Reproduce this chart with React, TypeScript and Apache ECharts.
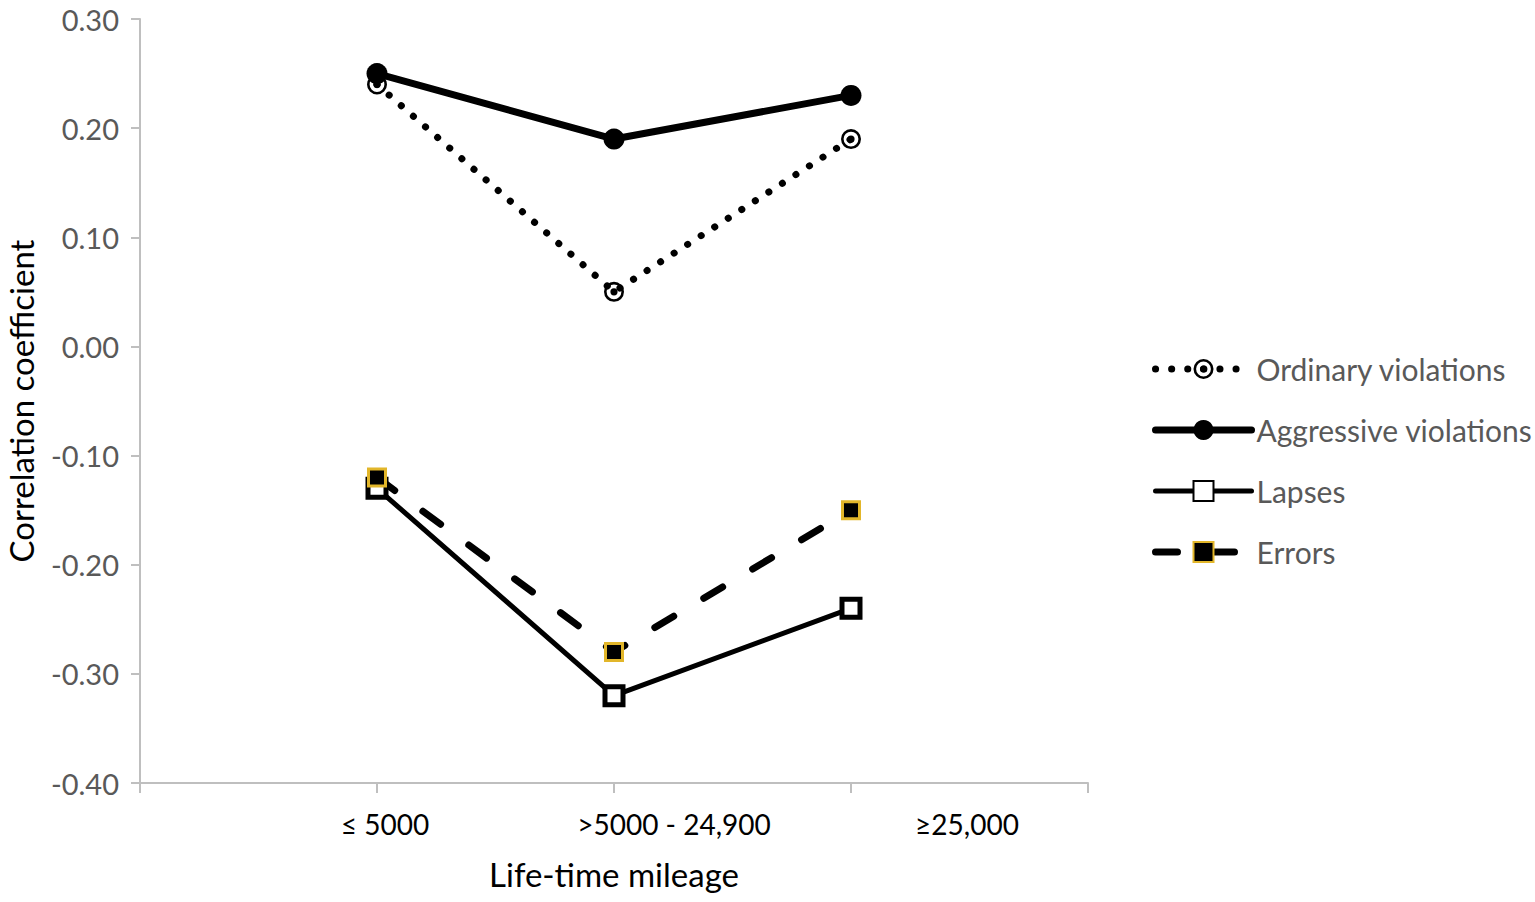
import React, { useEffect, useRef } from "react";
import * as echarts from "echarts";

const categories = ["≤ 5000", ">5000 - 24,900", "≥25,000"];
const ordinaryViolations = [0.24, 0.05, 0.19];
const aggressiveViolations = [0.25, 0.19, 0.23];
const lapses = [-0.13, -0.32, -0.24];
const errors = [-0.12, -0.28, -0.15];
const yTicks = { min: -0.4, max: 0.3, interval: 0.1 };

const FONT = "Lato, 'Open Sans', sans-serif";

// ring with centre dot
const ringDot =
  "path://M10 0A10 10 0 1 1 10 20A10 10 0 1 1 10 0Z M10 2.6A7.4 7.4 0 1 0 10 17.4A7.4 7.4 0 1 0 10 2.6Z M10 6.4A3.6 3.6 0 1 1 10 13.6A3.6 3.6 0 1 1 10 6.4Z";

const styles = {
  ordinary: { color: "#000", width: 7, type: [0.1, 16] as any, cap: "round" },
  aggressive: { color: "#000", width: 7, cap: "round" },
  lapses: { color: "#000", width: 5, cap: "round" },
  errors: { color: "#000", width: 7, type: [22, 35] as any, cap: "round" },
};

export default function App() {
  const ref = useRef<HTMLDivElement>(null);

  useEffect(() => {
    document.body.style.margin = "0";
    const chart = echarts.init(ref.current!, null, { renderer: "svg" });
    const axisData = ["", ...categories, ""];
    const pad = (arr: number[]) => [null, ...arr, null];
    const labelShift = [0, 16, 120, 232, 0];

    const rich: Record<string, any> = {};
    labelShift.forEach((s, i) => {
      rich["c" + i] = {
        fontSize: 28,
        fontFamily: FONT,
        color: "#000",
        padding: [0, 0, 0, s],
      };
    });

    chart.setOption({
      animation: false,
      backgroundColor: "#fff",
      grid: {
        left: 140,
        right: 447,
        top: 19,
        bottom: 119,
        containLabel: false,
        outerBoundsMode: "none",
      },
      xAxis: {
        type: "category",
        data: axisData,
        boundaryGap: false,
        name: "Life-time mileage",
        nameLocation: "middle",
        nameGap: 74,
        nameTextStyle: { fontSize: 33, fontFamily: FONT, color: "#000" },
        axisLine: { show: true, onZero: false, lineStyle: { color: "#BFBFBF", width: 2 } },
        axisTick: { show: true, length: 10, interval: 0, lineStyle: { color: "#BFBFBF", width: 2 } },
        axisLabel: {
          interval: 0,
          margin: 27,
          formatter: (v: string, i: number) => (v ? `{c${i}|${v}}` : ""),
          rich,
        },
        splitLine: { show: false },
      },
      yAxis: {
        type: "value",
        min: yTicks.min,
        max: yTicks.max,
        interval: yTicks.interval,
        name: "Correlation coefficient",
        nameLocation: "middle",
        nameGap: 103,
        nameTextStyle: { fontSize: 33, fontFamily: FONT, color: "#000" },
        axisLine: { show: true, lineStyle: { color: "#BFBFBF", width: 2 } },
        axisTick: { show: true, length: 9, lineStyle: { color: "#BFBFBF", width: 2 } },
        axisLabel: {
          margin: 21,
          fontSize: 29,
          fontFamily: FONT,
          color: "#595959",
          formatter: (v: number) => (Math.round(v * 100) / 100).toFixed(2),
        },
        splitLine: { show: false },
      },
      legend: {
        orient: "vertical",
        left: 1152,
        top: 354,
        padding: 0,
        itemWidth: 96,
        itemHeight: 25,
        itemGap: 31,
        textStyle: { fontSize: 30, lineHeight: 26, fontFamily: FONT, color: "#595959" },
        data: [
          { name: "Ordinary violations", lineStyle: styles.ordinary },
          { name: "Aggressive violations", lineStyle: styles.aggressive },
          { name: "Lapses", lineStyle: styles.lapses },
          { name: "Errors", lineStyle: styles.errors },
        ],
      },
      series: [
        {
          name: "Ordinary violations",
          type: "line",
          data: pad(ordinaryViolations),
          symbol: ringDot,
          symbolSize: 20,
          itemStyle: { color: "#000" },
          lineStyle: styles.ordinary,
        },
        {
          name: "Aggressive violations",
          type: "line",
          data: pad(aggressiveViolations),
          symbol: "circle",
          symbolSize: 21,
          itemStyle: { color: "#000" },
          lineStyle: styles.aggressive,
        },
        {
          name: "Lapses",
          type: "line",
          data: pad(lapses),
          symbol: "rect",
          symbolSize: 18,
          itemStyle: { color: "#fff", borderColor: "#000", borderWidth: 5 },
          lineStyle: styles.lapses,
        },
        {
          name: "Errors",
          type: "line",
          data: pad(errors),
          symbol: "rect",
          symbolSize: 17,
          itemStyle: { color: "#000", borderColor: "#E2B62A", borderWidth: 3 },
          lineStyle: styles.errors,
        },
      ],
    });
    return () => chart.dispose();
  }, []);

  return (
    <div
      ref={ref}
      style={{ position: "absolute", left: 0, top: 0, width: 1535, height: 902 }}
    />
  );
}
